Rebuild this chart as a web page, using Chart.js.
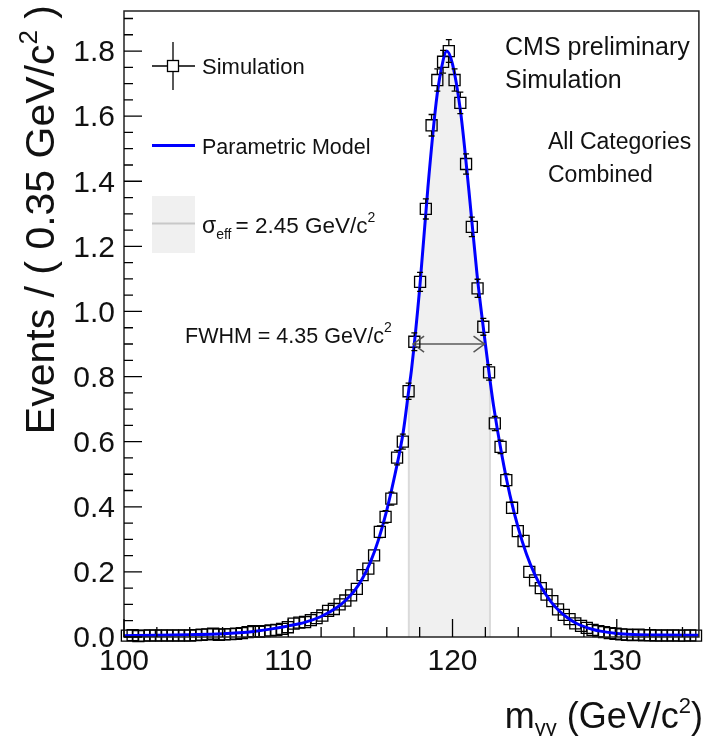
<!DOCTYPE html>
<html>
<head>
<meta charset="utf-8">
<script src="https://cdn.jsdelivr.net/npm/chart.js@4.4.1/dist/chart.umd.min.js"></script>
<style>
  html, body { margin: 0; padding: 0; background: #fff; }
  canvas { display: block; }
</style>
</head>
<body>
<canvas id="myChart" width="708" height="736"></canvas>
<script>
// bin centres, 0.35 GeV bins from 100 to 135
const binCenters = [
  100.175, 100.525, 100.875, 101.225, 101.575, 101.925, 102.275, 102.625, 102.975, 103.325,
  103.675, 104.025, 104.375, 104.725, 105.075, 105.425, 105.775, 106.125, 106.475, 106.825,
  107.175, 107.525, 107.875, 108.225, 108.575, 108.925, 109.275, 109.625, 109.975, 110.325,
  110.675, 111.025, 111.375, 111.725, 112.075, 112.425, 112.775, 113.125, 113.475, 113.825,
  114.175, 114.525, 114.875, 115.225, 115.575, 115.925, 116.275, 116.625, 116.975, 117.325,
  117.675, 118.025, 118.375, 118.725, 119.075, 119.425, 119.775, 120.125, 120.475, 120.825,
  121.175, 121.525, 121.875, 122.225, 122.575, 122.925, 123.275, 123.625, 123.975, 124.325,
  124.675, 125.025, 125.375, 125.725, 126.075, 126.425, 126.775, 127.125, 127.475, 127.825,
  128.175, 128.525, 128.875, 129.225, 129.575, 129.925, 130.275, 130.625, 130.975, 131.325,
  131.675, 132.025, 132.375, 132.725, 133.075, 133.425, 133.775, 134.125, 134.475, 134.825,
];
const simValues = [
  0.004, 0.006, 0.003, 0.004, 0.005, 0.004, 0.005, 0.004, 0.005, 0.004,
  0.005, 0.004, 0.006, 0.007, 0.008, 0.010, 0.007, 0.008, 0.009, 0.010,
  0.012, 0.015, 0.018, 0.016, 0.018, 0.020, 0.022, 0.025, 0.030, 0.041,
  0.044, 0.046, 0.052, 0.058, 0.066, 0.080, 0.086, 0.100, 0.112, 0.128,
  0.148, 0.190, 0.210, 0.251, 0.323, 0.369, 0.425, 0.551, 0.600, 0.755,
  0.907, 1.091, 1.315, 1.572, 1.711, 1.767, 1.800, 1.711, 1.641, 1.453,
  1.260, 1.071, 0.953, 0.813, 0.656, 0.584, 0.482, 0.397, 0.325, 0.295,
  0.200, 0.174, 0.150, 0.130, 0.110, 0.085, 0.068, 0.055, 0.042, 0.034,
  0.028, 0.022, 0.018, 0.015, 0.012, 0.010, 0.008, 0.007, 0.006, 0.007,
  0.005, 0.006, 0.004, 0.005, 0.004, 0.005, 0.004, 0.004, 0.005, 0.004,
];
const simErrors = [
  0.003, 0.003, 0.003, 0.003, 0.003, 0.003, 0.003, 0.003, 0.003, 0.003,
  0.003, 0.003, 0.003, 0.003, 0.003, 0.003, 0.003, 0.003, 0.003, 0.003,
  0.004, 0.005, 0.005, 0.005, 0.005, 0.005, 0.006, 0.006, 0.006, 0.007,
  0.007, 0.007, 0.008, 0.008, 0.009, 0.010, 0.010, 0.011, 0.012, 0.012,
  0.013, 0.014, 0.015, 0.016, 0.018, 0.019, 0.020, 0.022, 0.023, 0.025,
  0.027, 0.029, 0.031, 0.033, 0.034, 0.035, 0.035, 0.034, 0.033, 0.031,
  0.030, 0.028, 0.026, 0.024, 0.022, 0.021, 0.019, 0.017, 0.016, 0.015,
  0.012, 0.011, 0.011, 0.010, 0.009, 0.008, 0.007, 0.007, 0.006, 0.006,
  0.005, 0.005, 0.004, 0.004, 0.004, 0.003, 0.003, 0.003, 0.003, 0.003,
  0.003, 0.003, 0.003, 0.003, 0.003, 0.003, 0.003, 0.003, 0.003, 0.003,
];

// parametric model curve
const modelX = [
  100, 102, 104, 106, 107, 108, 109, 110, 111, 112, 113, 113.5, 114, 114.5, 115, 115.5, 116, 116.5,
  117, 117.34, 117.5, 118, 118.5, 119, 119.3, 119.65, 120, 120.5, 121, 121.5, 122, 122.28, 122.5,
  123, 123.5, 124, 124.5, 125, 125.5, 126, 126.5, 127, 127.5, 128, 128.5, 129, 130, 131, 133, 135,
];
const modelY = [
  0.004, 0.005, 0.007, 0.010, 0.013, 0.018, 0.025, 0.034, 0.045, 0.063, 0.092, 0.113, 0.140, 0.178, 0.230, 0.300, 0.390, 0.500,
  0.630, 0.760, 0.820, 1.070, 1.380, 1.640, 1.740, 1.800, 1.760, 1.610, 1.370, 1.110, 0.900, 0.790, 0.710,
  0.560, 0.435, 0.335, 0.255, 0.193, 0.145, 0.108, 0.080, 0.059, 0.043, 0.032, 0.024, 0.018, 0.011, 0.008, 0.006, 0.005,
];

// sigma_eff band and FWHM arrow
const bandLo = 117.34;
const bandHi = 122.28;
const fwhmLo = 117.6;
const fwhmHi = 121.95;
const fwhmY = 0.9;

const xTickValues = [100, 110, 120, 130];
const yTickValues = [0.0, 0.2, 0.4, 0.6, 0.8, 1.0, 1.2, 1.4, 1.6, 1.8];
const xMinorStep = 2;
const yMinorStep = 0.05;

const FONT = '"Liberation Sans", Arial, Helvetica, sans-serif';
const font = (s) => `${s}px ${FONT}`;

const modelAt = (x) => modelY[modelX.indexOf(x)];

const simPoints = binCenters.map((x, i) => ({ x: x, y: simValues[i] }));
const modelPoints = modelX.map((x, i) => ({ x: x, y: modelY[i] }));
const bandPoints = modelPoints.filter((p) => p.x >= bandLo && p.x <= bandHi);

// draw a run of text pieces (with sub/superscripts)
const richWidth = (ctx, parts) =>
  parts.reduce((w, p) => {
    ctx.font = font(p.size);
    return w + ctx.measureText(p.t).width + (p.gap || 0);
  }, 0);

const drawRich = (ctx, parts, x, y, align) => {
  let cx = align === "right" ? x - richWidth(ctx, parts) : x;
  ctx.textAlign = "left";
  ctx.textBaseline = "alphabetic";
  parts.forEach((p) => {
    ctx.font = font(p.size);
    ctx.fillText(p.t, cx, y + (p.dy || 0));
    cx += ctx.measureText(p.t).width + (p.gap || 0);
  });
};

const rootStyle = {
  id: "rootStyle",
  afterDatasetsDraw(chart) {
    const ctx = chart.ctx;
    const xs = chart.scales.x;
    const ys = chart.scales.y;
    ctx.save();
    ctx.strokeStyle = "#000";
    ctx.lineWidth = 1.3;
    const half = 5.5;
    simPoints.forEach((p, i) => {
      const px = xs.getPixelForValue(p.x);
      const py = ys.getPixelForValue(p.y);
      const e = ys.getPixelForValue(p.y - simErrors[i]) - py;
      if (e <= half) return;
      ctx.beginPath();
      ctx.moveTo(px, py - e);
      ctx.lineTo(px, py - half);
      ctx.moveTo(px, py + half);
      ctx.lineTo(px, py + e);
      ctx.moveTo(px - 3, py - e);
      ctx.lineTo(px + 3, py - e);
      ctx.moveTo(px - 3, py + e);
      ctx.lineTo(px + 3, py + e);
      ctx.stroke();
    });
    ctx.restore();
  },
  afterDraw(chart) {
    const ctx = chart.ctx;
    const { left, right, top, bottom } = chart.chartArea;
    const xs = chart.scales.x;
    const ys = chart.scales.y;
    ctx.save();

    // frame
    ctx.strokeStyle = "#222";
    ctx.lineWidth = 1.5;
    ctx.strokeRect(left, top, right - left, bottom - top);

    // ticks
    ctx.strokeStyle = "#000";
    ctx.lineWidth = 1.3;
    ctx.beginPath();
    for (let v = 100; v <= 135 + 1e-9; v += xMinorStep) {
      const px = xs.getPixelForValue(v);
      const len = xTickValues.includes(v) ? 18 : 10;
      ctx.moveTo(px, bottom);
      ctx.lineTo(px, bottom - len);
    }
    for (let k = 0; k * yMinorStep <= ys.max + 1e-9; k++) {
      const v = k * yMinorStep;
      const py = ys.getPixelForValue(v);
      const len = k % 4 === 0 ? 18 : 9;
      ctx.moveTo(left, py);
      ctx.lineTo(left + len, py);
    }
    ctx.stroke();

    // tick labels
    ctx.fillStyle = "#111";
    ctx.font = font(30);
    ctx.textAlign = "right";
    ctx.textBaseline = "middle";
    yTickValues.forEach((v) => {
      ctx.fillText(v.toFixed(1), 115, ys.getPixelForValue(v) + 2);
    });
    ctx.textAlign = "center";
    xTickValues.forEach((v) => {
      ctx.fillText(String(v), xs.getPixelForValue(v), 662);
    });

    // axis titles
    const yTitle = [
      { t: "Events / ( 0.35 GeV/c", size: 41 },
      { t: "2", size: 26, dy: -17 },
      { t: " )", size: 41 },
    ];
    const yw = richWidth(ctx, yTitle);
    ctx.save();
    ctx.translate(54, 5 + yw);
    ctx.rotate(-Math.PI / 2);
    drawRich(ctx, yTitle, 0, 0, "left");
    ctx.restore();

    drawRich(
      ctx,
      [
        { t: "m", size: 36 },
        { t: "γγ", size: 22, dy: 7 },
        { t: " (GeV/c", size: 36 },
        { t: "2", size: 22, dy: -15 },
        { t: ")", size: 36 },
      ],
      703,
      728,
      "right"
    );

    // legend
    ctx.strokeStyle = "#000";
    ctx.lineWidth = 1.3;
    ctx.beginPath();
    ctx.moveTo(152, 66);
    ctx.lineTo(167.5, 66);
    ctx.moveTo(178.5, 66);
    ctx.lineTo(195, 66);
    ctx.moveTo(173, 42);
    ctx.lineTo(173, 60.5);
    ctx.moveTo(173, 71.5);
    ctx.lineTo(173, 90);
    ctx.stroke();
    ctx.strokeRect(167.5, 60.5, 11, 11);

    ctx.strokeStyle = "#0000ff";
    ctx.lineWidth = 3;
    ctx.beginPath();
    ctx.moveTo(152, 145.5);
    ctx.lineTo(195, 145.5);
    ctx.stroke();

    ctx.fillStyle = "#f0f0f0";
    ctx.fillRect(152, 196, 43, 57);
    ctx.strokeStyle = "#c8c8c8";
    ctx.lineWidth = 2;
    ctx.beginPath();
    ctx.moveTo(152, 223.5);
    ctx.lineTo(195, 223.5);
    ctx.stroke();

    ctx.fillStyle = "#111";
    drawRich(ctx, [{ t: "Simulation", size: 22 }], 202, 74, "left");
    drawRich(ctx, [{ t: "Parametric Model", size: 21.5 }], 202, 154, "left");
    drawRich(
      ctx,
      [
        { t: "σ", size: 23 },
        { t: "eff", size: 14, dy: 6, gap: 4 },
        { t: "= 2.45 GeV/c", size: 22.5 },
        { t: "2", size: 14, dy: -11 },
      ],
      202,
      233,
      "left"
    );
    drawRich(
      ctx,
      [
        { t: "FWHM = 4.35 GeV/c", size: 21.5 },
        { t: "2", size: 14, dy: -11 },
      ],
      185,
      343,
      "left"
    );

    drawRich(ctx, [{ t: "CMS preliminary", size: 25 }], 505, 55, "left");
    drawRich(ctx, [{ t: "Simulation", size: 25 }], 505, 88, "left");
    drawRich(ctx, [{ t: "All Categories", size: 23 }], 548, 149, "left");
    drawRich(ctx, [{ t: "Combined", size: 23 }], 548, 182, "left");

    // FWHM arrow
    const ax0 = xs.getPixelForValue(fwhmLo);
    const ax1 = xs.getPixelForValue(fwhmHi);
    const ay = ys.getPixelForValue(fwhmY);
    ctx.strokeStyle = "#111";
    ctx.lineWidth = 1.2;
    ctx.beginPath();
    ctx.moveTo(ax0, ay);
    ctx.lineTo(ax1, ay);
    ctx.stroke();
    ctx.strokeStyle = "#555";
    ctx.lineWidth = 1.5;
    ctx.beginPath();
    ctx.moveTo(ax0 + 11, ay - 8);
    ctx.lineTo(ax0, ay);
    ctx.lineTo(ax0 + 11, ay + 8);
    ctx.moveTo(ax1 - 11, ay - 8);
    ctx.lineTo(ax1, ay);
    ctx.lineTo(ax1 - 11, ay + 8);
    ctx.stroke();

    ctx.restore();
  },
};

const main = () => {
  const config = {
    type: "scatter",
    data: {
      datasets: [
        {
          label: "Parametric Model",
          data: modelPoints,
          showLine: true,
          borderColor: "#0000ff",
          borderWidth: 3,
          pointRadius: 0,
          cubicInterpolationMode: "monotone",
          fill: false,
          order: 0,
        },
        {
          label: "Simulation",
          data: simPoints,
          showLine: false,
          pointStyle: "rect",
          pointRadius: 7.8,
          borderColor: "#000",
          borderWidth: 1.3,
          backgroundColor: "rgba(0,0,0,0)",
          clip: 12,
          order: 1,
        },
        {
          label: "band low edge",
          data: [
            { x: bandLo, y: 0 },
            { x: bandLo, y: modelAt(bandLo) },
          ],
          showLine: true,
          borderColor: "#dadada",
          borderWidth: 2,
          pointRadius: 0,
          order: 2,
        },
        {
          label: "band high edge",
          data: [
            { x: bandHi, y: 0 },
            { x: bandHi, y: modelAt(bandHi) },
          ],
          showLine: true,
          borderColor: "#dadada",
          borderWidth: 2,
          pointRadius: 0,
          order: 2,
        },
        {
          label: "sigma eff",
          data: bandPoints,
          showLine: true,
          borderWidth: 0,
          borderColor: "rgba(0,0,0,0)",
          backgroundColor: "#f0f0f0",
          pointRadius: 0,
          cubicInterpolationMode: "monotone",
          fill: "origin",
          order: 4,
        },
      ],
    },
    options: {
      responsive: false,
      animation: false,
      devicePixelRatio: 1,
      layout: { padding: { left: 0, right: 3, top: 11, bottom: 0 } },
      plugins: {
        legend: { display: false },
        tooltip: { enabled: false },
      },
      scales: {
        x: {
          type: "linear",
          min: 100,
          max: 135,
          ticks: { display: false },
          grid: { display: false },
          border: { display: false },
          afterFit: (scale) => {
            scale.height = 99;
          },
        },
        y: {
          type: "linear",
          min: 0,
          max: 1.923,
          ticks: { display: false },
          grid: { display: false },
          border: { display: false },
          afterFit: (scale) => {
            scale.width = 124;
          },
        },
      },
    },
    plugins: [rootStyle],
  };

  const ctx = document.querySelector("canvas#myChart").getContext("2d");
  const myChart = new Chart(ctx, config);
};
main();
</script>
</body>
</html>
